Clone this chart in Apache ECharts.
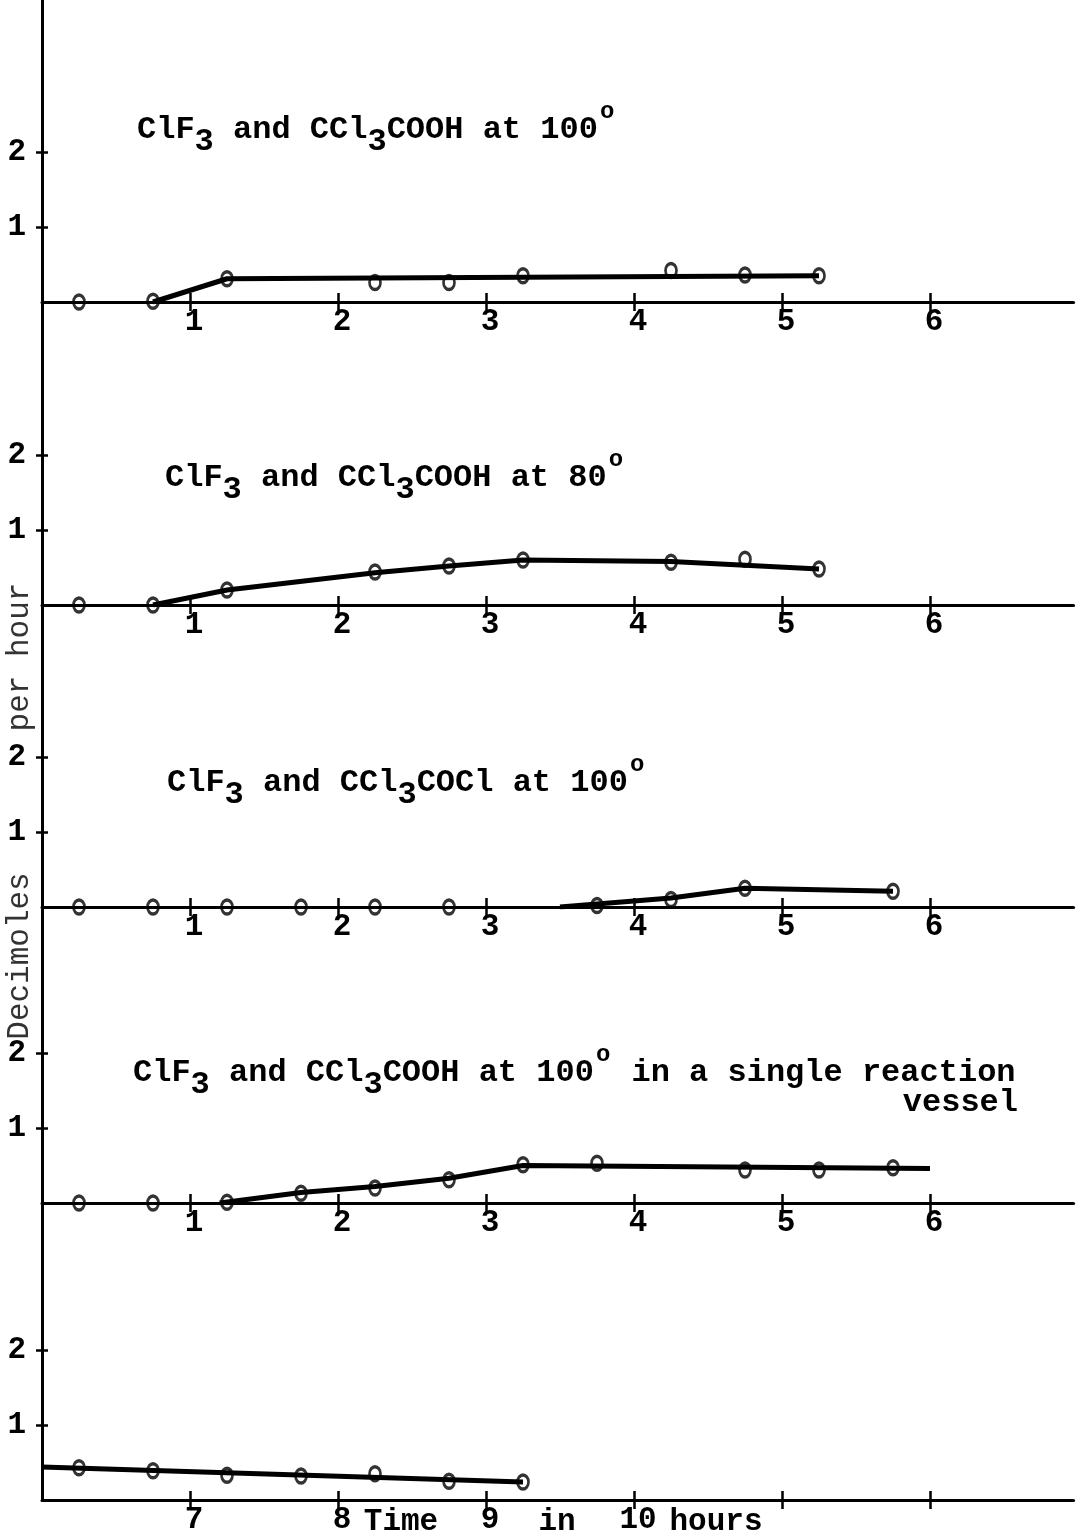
<!DOCTYPE html>
<html>
<head>
<meta charset="utf-8">
<script src="https://cdn.jsdelivr.net/npm/echarts@6/dist/echarts.min.js"></script>
<style>
  html, body { margin: 0; background: #fff; }
  #chart { width: 1080px; height: 1538px; }
</style>
</head>
<body>
<div id="chart"></div>
<script>
const FONT = '"Liberation Mono", "Courier New", monospace'

// decimoles per hour vs. time in hours
const p1Hours = [0.25, 0.75, 1.25, 2.25, 2.75, 3.25, 4.25, 4.75, 5.25]
const p1Rate = [0, 0.01, 0.31, 0.26, 0.26, 0.35, 0.42, 0.36, 0.35]
const p1FitHours = [0.75, 1.25, 5.25]
const p1FitRate = [0, 0.31, 0.35]

const p2Hours = [0.25, 0.75, 1.25, 2.25, 2.75, 3.25, 4.25, 4.75, 5.25]
const p2Rate = [0, 0, 0.2, 0.44, 0.52, 0.6, 0.57, 0.61, 0.48]
const p2FitHours = [0.75, 1.25, 2.25, 2.75, 3.25, 4.25, 5.25]
const p2FitRate = [0, 0.2, 0.43, 0.52, 0.6, 0.58, 0.48]

const p3Hours = [0.25, 0.75, 1.25, 1.75, 2.25, 2.75, 3.75, 4.25, 4.75, 5.75]
const p3Rate = [0, 0, 0, 0, 0, 0, 0.02, 0.1, 0.25, 0.21]
const p3FitHours = [3.5, 4.25, 4.75, 5.75]
const p3FitRate = [0, 0.12, 0.25, 0.21]

const p4Hours = [0.25, 0.75, 1.25, 1.75, 2.25, 2.75, 3.25, 3.75, 4.75, 5.25, 5.75]
const p4Rate = [0, 0, 0.01, 0.13, 0.2, 0.31, 0.51, 0.53, 0.44, 0.44, 0.47]
const p4FitHours = [1.2, 1.75, 2.25, 2.75, 3.25, 6.0]
const p4FitRate = [0, 0.14, 0.22, 0.33, 0.5, 0.46]

const p5Hours = [6.25, 6.75, 7.25, 7.75, 8.25, 8.75, 9.25]
const p5Rate = [0.43, 0.39, 0.33, 0.32, 0.35, 0.25, 0.24]
const p5FitHours = [6.0, 9.25]
const p5FitRate = [0.44, 0.24]

const xTicks = [1, 2, 3, 4, 5, 6]
const xTicksLate = [7, 8, 9, 10, 11, 12]
const xLabelsLate = [7, 8, 9, 10]
const yTicks = [1, 2]

const titles = [
  "{n|ClF}{s|3}{n| and CCl}{s|3}{n|COOH at 100}{d|o}",
  "{n|ClF}{s|3}{n| and CCl}{s|3}{n|COOH at 80}{d|o}",
  "{n|ClF}{s|3}{n| and CCl}{s|3}{n|COCl at 100}{d|o}",
  "{n|ClF}{s|3}{n| and CCl}{s|3}{n|COOH at 100}{d|o}{n| in a single reaction}"
]

const panels = [
  { hours: p1Hours, rate: p1Rate, fitHours: p1FitHours, fitRate: p1FitRate, start: 0 },
  { hours: p2Hours, rate: p2Rate, fitHours: p2FitHours, fitRate: p2FitRate, start: 0 },
  { hours: p3Hours, rate: p3Rate, fitHours: p3FitHours, fitRate: p3FitRate, start: 0 },
  { hours: p4Hours, rate: p4Rate, fitHours: p4FitHours, fitRate: p4FitRate, start: 0 },
  { hours: p5Hours, rate: p5Rate, fitHours: p5FitHours, fitRate: p5FitRate, start: 6 }
]

// layout: one hour = 148px, one decimole/h = 75px, panels stacked on one long y axis
const LEFT = 42
const PX_HOUR = 148
const PX_UNIT = 75
const SPAN = 6.97
const baselines = [302, 605, 907, 1203, 1500]
const WIDTH = SPAN * PX_HOUR

const ink = { color: "#000", width: 3 }
const tickInk = { color: "#000", width: 2.5 }
const labelFont = { color: "#000", fontFamily: FONT, fontSize: 31, fontWeight: "bold" }

const grid = [], xAxis = [], yAxis = [], series = []

panels.forEach((p, i) => {
  const top = i === 0 ? 0 : baselines[i - 1]
  const height = baselines[i] - top
  const late = i === 4
  grid.push({ left: LEFT, top, width: WIDTH, height })

  const xBase = { gridIndex: i, type: "value", min: p.start, max: p.start + SPAN, splitLine: { show: false } }
  const ticks = late ? xTicksLate : xTicks
  xAxis.push(Object.assign({}, xBase, {
    position: "bottom",
    axisLine: { onZero: false, lineStyle: ink },
    axisTick: { show: true, customValues: ticks, length: 9, lineStyle: tickInk },
    axisLabel: Object.assign({ customValues: late ? xLabelsLate : xTicks, margin: 5, padding: [0, 0, 0, 8] }, labelFont)
  }))
  // second axis only for the upper half of the crossing ticks
  xAxis.push(Object.assign({}, xBase, {
    position: "top",
    offset: -height,
    axisLine: { show: false, onZero: false },
    axisTick: { show: true, customValues: ticks, length: 9, lineStyle: tickInk },
    axisLabel: { show: false }
  }))

  const yBase = { gridIndex: i, type: "value", min: 0, max: height / PX_UNIT, splitLine: { show: false } }
  yAxis.push(Object.assign({}, yBase, {
    position: "left",
    axisLine: { show: true, onZero: false, lineStyle: ink },
    axisTick: { show: true, customValues: yTicks, length: 6, lineStyle: tickInk },
    axisLabel: Object.assign({ customValues: yTicks, margin: 16 }, labelFont)
  }))
  yAxis.push(Object.assign({}, yBase, {
    position: "right",
    offset: -WIDTH,
    axisLine: { show: false, onZero: false },
    axisTick: { show: true, customValues: yTicks, length: 6, lineStyle: tickInk },
    axisLabel: { show: false }
  }))

  series.push({
    type: "line",
    xAxisIndex: 2 * i,
    yAxisIndex: 2 * i,
    data: p.fitHours.map((h, k) => [h, p.fitRate[k]]),
    showSymbol: false,
    lineStyle: { color: "#000", width: 5 },
    z: 3
  })
  series.push({
    type: "scatter",
    xAxisIndex: 2 * i,
    yAxisIndex: 2 * i,
    data: p.hours.map((h, k) => [h, p.rate[k]]),
    symbol: "circle",
    symbolSize: [11, 14],
    itemStyle: { color: "rgba(0,0,0,0)", borderColor: "#000", borderWidth: 3 },
    z: 4
  })
})

const rich = {
  n: { fill: "#000", fontFamily: FONT, fontSize: 32, fontWeight: "bold", padding: [14, 0, 0, 0], verticalAlign: "top" },
  s: { fill: "#000", fontFamily: FONT, fontSize: 32, fontWeight: "bold", padding: [26, 0, 0, 0], verticalAlign: "top" },
  d: { fill: "#000", fontFamily: FONT, fontSize: 24, fontWeight: "bold", padding: [0, 2, 0, 2], verticalAlign: "top" }
}
const titlePos = [[137, 100], [165, 448], [167, 753], [133, 1043]]

const typed = (text, x, y, extra) => ({
  type: "text", x, y, silent: true,
  style: Object.assign({ text, fill: "#000", font: "bold 31px " + FONT, align: "center", verticalAlign: "middle" }, extra || {})
})

const graphic = titles.map((t, i) => ({
  type: "text", x: titlePos[i][0], y: titlePos[i][1], silent: true,
  style: { text: t, rich, fill: "#000", font: "bold 32px " + FONT, align: "left", verticalAlign: "top" }
}))
graphic.push(typed("vessel", 1018, 1103, { align: "right", font: "bold 32px " + FONT }))
graphic.push(typed("Time", 401, 1522))
graphic.push(typed("in", 557, 1522))
graphic.push(typed("hours", 716, 1522))
graphic.push(Object.assign(typed("Decimoles", 20, 956, { fill: "#333", font: "31px " + FONT }), { rotation: Math.PI / 2 }))
graphic.push(Object.assign(typed("per hour", 20, 657, { fill: "#333", font: "31px " + FONT }), { rotation: Math.PI / 2 }))

const chart = echarts.init(document.getElementById("chart"), null, { renderer: "canvas" })
chart.setOption({
  animation: false,
  backgroundColor: "#fff",
  grid,
  xAxis,
  yAxis,
  series,
  graphic
})
</script>
</body>
</html>
